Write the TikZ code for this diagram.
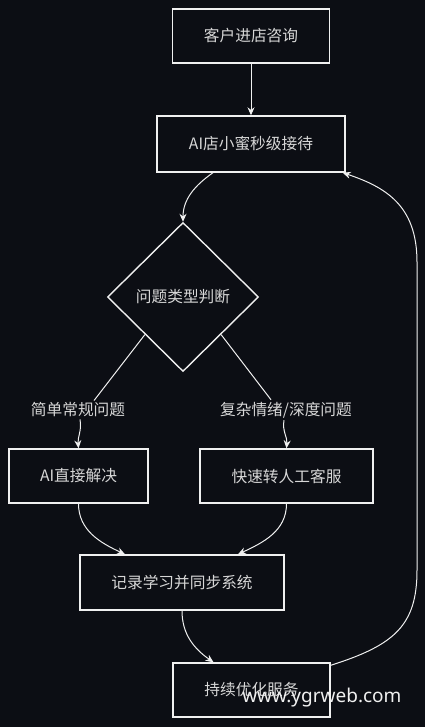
\documentclass[tikz,border=0pt]{standalone}
\usepackage{fontspec}
\setmainfont{Noto Sans CJK SC}
\newfontfamily\wmfont{Noto Sans}
\usetikzlibrary{shapes.geometric,arrows.meta,calc}
\definecolor{bgc}{RGB}{12,14,20}
\definecolor{linec}{RGB}{240,240,240}
\definecolor{txtc}{RGB}{215,215,215}
\begin{document}
\begin{tikzpicture}[x=1pt,y=-1pt,
  font=\fontsize{15.7}{18}\selectfont,
  box/.style={draw=linec,line width=1.4pt,fill=bgc,text=txtc,rectangle,inner sep=0pt},
  dia/.style={draw=linec,line width=1.4pt,fill=bgc,text=txtc,diamond,inner sep=0pt,minimum width=151pt,minimum height=149pt},
  elab/.style={fill=bgc,text=txtc,inner sep=2pt},
  conn/.style={draw=linec,line width=1pt},
  arr/.style={conn,-{Stealth[length=8pt,width=7pt]}}]
\fill[bgc] (0,0) rectangle (425,727);
\useasboundingbox (0,0) rectangle (425,727);

\node[box,minimum width=157pt,minimum height=54pt] (start) at (251,36) {客户进店咨询};
\node[box,minimum width=188pt,minimum height=56pt] (ai) at (251,144) {AI店小蜜秒级接待};
\node[dia] (q) at (183,297) {问题类型判断};
\node[elab] (l1) at (78,410) {简单常规问题};
\node[elab] (l2) at (286,410) {复杂情绪/深度问题};
\node[box,minimum width=139pt,minimum height=54pt] (b1) at (78.5,476) {AI直接解决};
\node[box,minimum width=173pt,minimum height=54pt] (b2) at (286.5,476) {快速转人工客服};
\node[box,minimum width=204pt,minimum height=55pt] (rec) at (182,582.5) {记录学习并同步系统};
\node[box,minimum width=157pt,minimum height=54pt] (opt) at (251.5,690) {持续优化服务};

\draw[arr] (start) -- (ai);
\draw[arr] ($(ai.south)+(-38,0)$) to[out=-145,in=90] (q.north);
\draw[conn] (q.south west) -- ($(l1.north)+(16,0)$);
\draw[conn] (q.south east) -- ($(l2.north)+(-15,0)$);
\draw[arr] ($(l1.south)+(2,0)$) to[out=-80,in=95] (b1.north);
\draw[arr] ($(l2.south)+(-2,0)$) to[out=-100,in=85] (b2.north);
\draw[arr] (b1.south) to[out=-90,in=155] ($(rec.north)+(-57,0)$);
\draw[arr] (b2.south) to[out=-90,in=25] ($(rec.north)+(56,0)$);
\draw[arr] (rec.south) to[out=-90,in=145] ($(opt.north)+(-38,0)$);
\coordinate (r1) at (417,570);
\coordinate (r2) at (417,262);
\draw[arr] ($(opt.north east)+(0,3)$) .. controls (395,645) and (417,625) .. (r1) -- (r2) .. controls (417,205) and (385,187) .. ($(ai.south east)+(-3,0)$);

\node[text=linec,font=\wmfont\fontsize{19}{23}\selectfont,anchor=base east] (wm) at (405,702) {www.ygrweb.com};
\end{tikzpicture}
\end{document}
